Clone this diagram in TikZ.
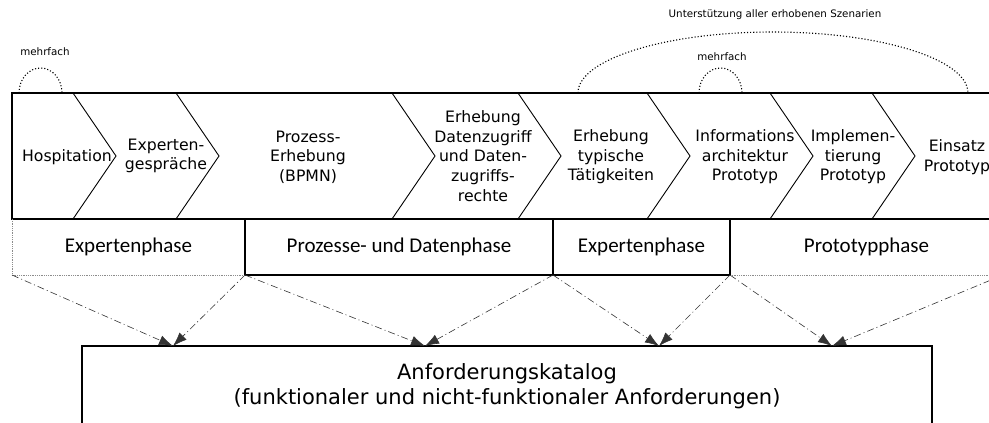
\documentclass[tikz,border=0pt]{standalone}
\usepackage{fontspec}
\setmainfont{DejaVu Sans}
\newfontfamily\phasefont{Carlito}
\usetikzlibrary{arrows.meta}
\begin{document}
\begin{tikzpicture}[x=1pt,y=-1pt,
  frame/.style={draw=black,line width=1.1pt},
  chevronline/.style={draw=black,line width=0.9pt},
  steptext/.style={align=center,font=\fontsize{15.7}{19.6}\selectfont,inner sep=0pt},
  phasecell/.style={inner sep=0pt,outer sep=0pt,minimum height=56pt,
    font=\phasefont\fontsize{21}{25}\selectfont},
  faint/.style={draw=black!45,densely dotted,line width=0.8pt},
  repeatloop/.style={draw=black,dotted,line width=1.1pt},
  looplabel/.style={font=\fontsize{10.3}{12}\selectfont,inner sep=0pt},
  feed/.style={draw=black!80,line width=0.6pt,dash pattern=on 7pt off 3pt on 1pt off 3pt,
    -{Latex[length=14pt,width=10pt]}},
  catalog/.style={draw=black,line width=1.1pt,inner sep=0pt,outer sep=0pt,
    minimum width=850pt,minimum height=80pt,align=center,
    font=\fontsize{21}{25}\selectfont},
]
\useasboundingbox (0,0) rectangle (989,423);
\clip (0,0) rectangle (989,423);

% process steps: outer frame
\draw[frame] (1003,93) -- (12,93) -- (12,219) -- (1003,219);

% chevron separators
\foreach \a in {73,176,392,518,647,770,872}
  \draw[chevronline] (\a,93) -- (\a+43,156) -- (\a,219);

% step labels
\node[steptext] (s1) at (67,157) {Hospitation};
\node[steptext] (s2) at (166,156) {Experten-\\gespräche};
\node[steptext] (s3) at (308,157) {Prozess-\\Erhebung\\(BPMN)};
\node[steptext] (s4) at (483,156) {Erhebung\\Datenzugriff\\und Daten-\\zugriffs-\\rechte};
\node[steptext] (s5) at (611,157) {Erhebung\\typische\\Tätigkeiten};
\node[steptext] (s6) at (745,157) {Informations\\architektur\\Prototyp};
\node[steptext] (s7) at (853,157) {Implemen-\\tierung\\Prototyp};
\node[steptext] (s8) at (957,157) {Einsatz\\Prototyp};

% phases
\node[phasecell,minimum width=233pt] (ph1) at (128.5,247) {Expertenphase};
\node[phasecell,minimum width=308pt] (ph2) at (399,247) {Prozesse- und Datenphase};
\node[phasecell,minimum width=177pt] (ph3) at (641.5,247) {Expertenphase};
\node[phasecell,minimum width=273pt] (ph4) at (866.5,247) {Prototypphase};

\draw[faint] (ph1.north west) -- (ph1.south west) -- (ph1.south east);
\draw[frame] (ph1.north east) -- (ph1.south east);
\draw[frame] (ph2.north east) -- (ph2.south east);
\draw[frame] (ph2.south west) -- (ph3.south east);
\draw[frame] (ph3.north east) -- (ph3.south east);
\draw[faint] (ph4.south west) -- (ph4.south east);

% requirements catalogue
\node[catalog] (cat) at (507,386)
  {Anforderungskatalog\\(funktionaler und nicht-funktionaler Anforderungen)};

\coordinate (in1) at (173,346);
\coordinate (in2) at (425,346);
\coordinate (in3) at (659,346);
\coordinate (in4) at (832,346);

\draw[feed] (ph1.south west) -- (in1);
\draw[feed] (ph1.south east) -- (in1);
\draw[feed] (ph2.south west) -- (in2);
\draw[feed] (ph2.south east) -- (in2);
\draw[feed] (ph3.south west) -- (in3);
\draw[feed] (ph3.south east) -- (in3);
\draw[feed] (ph4.south west) -- (in4);
\draw[feed] (ph4.south east) -- (in4);

% repetition loops
\draw[repeatloop] (19,93) arc[start angle=180,end angle=360,x radius=21.5,y radius=25];
\node[looplabel] (rep1) at (45,52) {mehrfach};

\draw[repeatloop] (699,93) arc[start angle=180,end angle=360,x radius=21.5,y radius=25];
\node[looplabel] (rep2) at (722,57) {mehrfach};

\draw[repeatloop] (578,93) arc[start angle=180,end angle=360,x radius=195,y radius=61];
\node[looplabel] (scen) at (775,15) {Unterstützung aller erhobenen Szenarien};
\end{tikzpicture}
\end{document}
